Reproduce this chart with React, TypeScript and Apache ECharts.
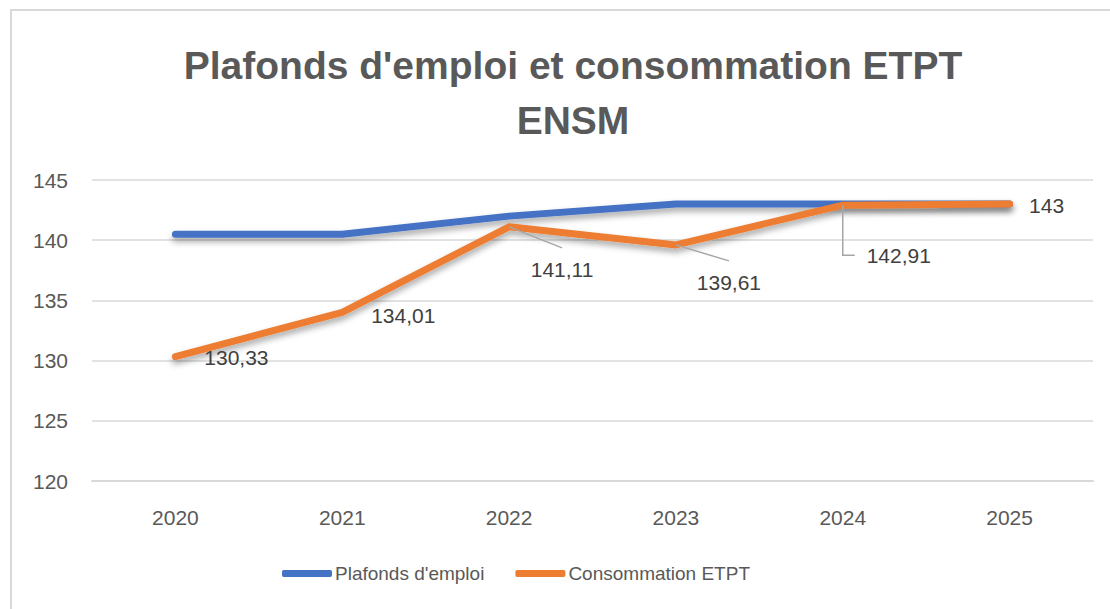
import React, { useEffect, useRef } from "react";
import * as echarts from "echarts";

const years = ["2020", "2021", "2022", "2023", "2024", "2025"];
const plafonds = [140.5, 140.5, 142, 143, 143, 143];
const consommation = [130.33, 134.01, 141.11, 139.61, 142.91, 143];
const yTicks = { min: 120, max: 145, interval: 5 };
const seriesNames = ["Plafonds d'emploi", "Consommation ETPT"];
const seriesColors = ["#4472C4", "#ED7D31"];
const titleLines = ["Plafonds d'emploi et consommation ETPT", "ENSM"];

// label placement (label centre offset relative to its point, px) — style only
const labelOffsets: [number, number][] = [
  [61, 1],
  [61, 3],
  [53, 43],
  [53, 38],
  [56, 50],
  [37, 1],
];
// leader line style per label: "none" | "straight" | "elbow"
const leaderKinds = ["none", "none", "straight", "straight", "elbow", "none"];

const FONT = "'Liberation Sans', Arial, sans-serif";

export default function App() {
  const ref = useRef<HTMLDivElement>(null);
  useEffect(() => {
    if (!ref.current) return;
    const chart = echarts.init(ref.current, undefined, { renderer: "svg" });
    const fmt = (v: number) => String(v).replace(".", ",");
    const lineShadow = {
      shadowColor: "rgba(0,0,0,0.35)",
      shadowBlur: 6,
      shadowOffsetY: 4,
    };
    chart.setOption({
      animation: false,
      backgroundColor: "#ffffff",
      textStyle: { fontFamily: FONT },
      title: {
        text: titleLines.join("\n"),
        left: 568,
        top: 33,
        textAlign: "center",
        textStyle: {
          fontFamily: FONT,
          fontWeight: "bold",
          fontSize: 39,
          lineHeight: 55,
          color: "#595959",
        },
      },
      graphic: [
        {
          type: "polyline",
          shape: { points: [[11, 620], [11, 10], [1120, 10]] },
          style: { stroke: "#d9d9d9", lineWidth: 2, fill: "none" },
          silent: true,
        },
      ],
      legend: {
        data: seriesNames.map((n, i) => ({
          name: n,
          itemStyle: { color: seriesColors[i], opacity: 1 },
        })),
        left: 277,
        top: 559,
        icon: "roundRect",
        itemWidth: 50,
        itemHeight: 7,
        itemGap: 31,
        textStyle: { fontFamily: FONT, fontSize: 19, color: "#595959", padding: [0, 0, 0, -2] },
      },
      grid: { left: 92, right: 17, top: 180, bottom: 128, containLabel: false },
      xAxis: {
        type: "category",
        data: years,
        boundaryGap: true,
        axisLine: { show: true, lineStyle: { color: "#d9d9d9", width: 2 } },
        axisTick: { show: false },
        axisLabel: { fontFamily: FONT, fontSize: 21, color: "#595959", margin: 26 },
      },
      yAxis: {
        type: "value",
        min: yTicks.min,
        max: yTicks.max,
        interval: yTicks.interval,
        axisLine: { show: false },
        axisTick: { show: false },
        splitLine: { lineStyle: { color: "#d9d9d9", width: 1.5 } },
        axisLabel: { fontFamily: FONT, fontSize: 21, color: "#595959", margin: 24 },
      },
      series: [
        {
          name: seriesNames[0],
          type: "line",
          data: plafonds,
          symbol: "none",
          color: seriesColors[0],
          lineStyle: {
            width: 7,
            color: seriesColors[0],
            cap: "round",
            join: "round",
            ...lineShadow,
          },
          z: 2,
        },
        {
          name: seriesNames[1],
          type: "line",
          data: consommation,
          symbol: "none",
          color: seriesColors[1],
          lineStyle: {
            width: 7,
            color: seriesColors[1],
            cap: "round",
            join: "round",
            ...lineShadow,
          },
          z: 3,
        },
        {
          name: "labels",
          type: "custom",
          coordinateSystem: "cartesian2d",
          silent: true,
          z: 4,
          data: consommation.map((v, i) => [i, v]),
          encode: { x: 0, y: 1 },
          renderItem: (params: any, api: any) => {
            const i = params.dataIndex;
            const v = api.value(1);
            const [px, py] = api.coord([api.value(0), v]);
            const [dx, dy] = labelOffsets[i];
            const lx = px + dx;
            const ly = py + dy;
            const children: any[] = [];
            const kind = leaderKinds[i];
            if (kind === "straight") {
              children.push({
                type: "polyline",
                shape: { points: [[px, py], [lx, ly - 22]] },
                style: { stroke: "#A6A6A6", lineWidth: 1.5, fill: null },
              });
            } else if (kind === "elbow") {
              children.push({
                type: "polyline",
                shape: { points: [[px, py], [px, ly], [px + 12, ly]] },
                style: { stroke: "#A6A6A6", lineWidth: 1.5, fill: null },
              });
            }
            children.push({
              type: "text",
              style: {
                text: fmt(v),
                x: lx,
                y: ly,
                align: "center",
                verticalAlign: "middle",
                font: `21px ${FONT}`,
                fill: "#404040",
              },
            });
            return { type: "group", children };
          },
        },
      ],
    });
    return () => chart.dispose();
  }, []);
  return (
    <div
      ref={ref}
      style={{ position: "absolute", left: 0, top: 0, width: 1110, height: 609 }}
    />
  );
}
